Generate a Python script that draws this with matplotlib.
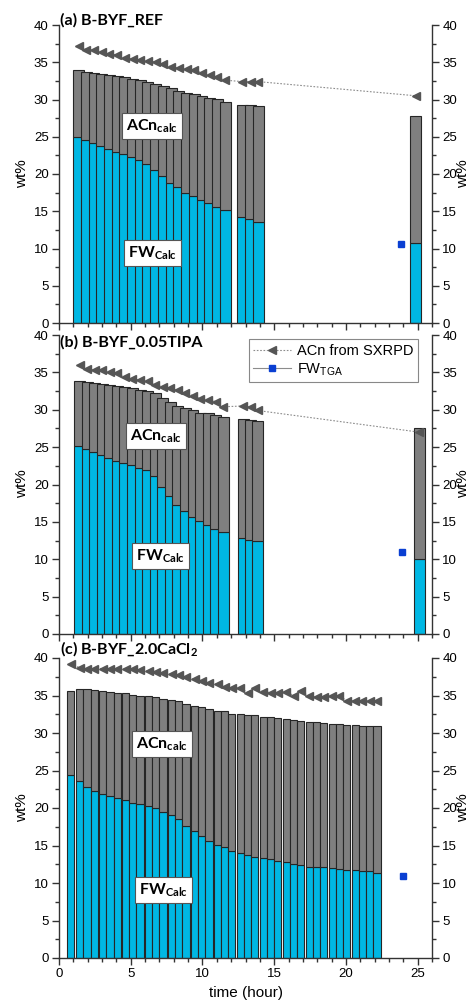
import matplotlib.pyplot as plt
from matplotlib.lines import Line2D
from matplotlib.ticker import MultipleLocator

plt.rcParams['font.family'] = ['Liberation Sans', 'DejaVu Sans']
plt.rcParams['mathtext.fontset'] = 'custom'
plt.rcParams['mathtext.rm'] = 'Liberation Sans'
plt.rcParams['mathtext.bf'] = 'Lato:bold'

# ---- data (wt%) ----
# (a) B-BYF_REF
t_a = [1.36, 1.90, 2.44, 2.97, 3.51, 4.05, 4.59, 5.13, 5.66, 6.20,
       6.74, 7.28, 7.82, 8.35, 8.89, 9.43, 9.97, 10.51, 11.04, 11.58,
       12.76, 13.35, 13.88, 24.87]
total_a = [33.9, 33.7, 33.5, 33.4, 33.3, 33.1, 33.0, 32.8, 32.6, 32.4,
           32.1, 31.8, 31.5, 31.2, 30.9, 30.7, 30.5, 30.2, 30.0, 29.7,
           29.3, 29.2, 29.1, 27.8]
fw_a = [24.9, 24.5, 24.1, 23.8, 23.4, 23.0, 22.7, 22.3, 21.9, 21.3,
        20.6, 19.7, 18.8, 18.2, 17.5, 17.0, 16.5, 16.1, 15.6, 15.2,
        14.2, 13.9, 13.6, 10.7]
sxrpd_a = [37.2, 36.7, 36.6, 36.4, 36.1, 36.0, 35.6, 35.4, 35.3, 35.2,
           35.0, 34.7, 34.4, 34.2, 34.1, 33.9, 33.6, 33.3, 33.0, 32.6,
           32.4, 32.4, 32.4, 30.5]
tga_a = (23.86, 10.55)

# (b) B-BYF_0.05TIPA
t_b = [1.43, 1.96, 2.48, 3.01, 3.54, 4.07, 4.59, 5.12, 5.65, 6.17,
       6.70, 7.23, 7.75, 8.28, 8.81, 9.34, 9.86, 10.39, 10.92, 11.44,
       12.83, 13.35, 13.84, 25.12]
total_b = [33.9, 33.7, 33.6, 33.5, 33.3, 33.2, 33.0, 32.9, 32.7, 32.5,
           32.2, 31.6, 31.1, 30.5, 30.3, 29.9, 29.6, 29.5, 29.3, 29.0,
           28.7, 28.6, 28.5, 27.6]
fw_b = [25.1, 24.7, 24.3, 23.9, 23.6, 23.2, 22.9, 22.6, 22.2, 21.9,
        21.1, 19.6, 18.4, 17.2, 16.5, 15.7, 15.1, 14.6, 14.1, 13.7,
        12.9, 12.6, 12.4, 10.1]
sxrpd_b = [36.0, 35.4, 35.3, 35.3, 35.0, 34.9, 34.4, 34.1, 34.0, 33.8,
           33.3, 33.1, 32.9, 32.6, 32.2, 31.9, 31.5, 31.3, 31.1, 30.4,
           30.5, 30.4, 29.9, 27.0]
tga_b = (23.93, 11.0)

# (c) B-BYF_2.0CaCl2
t_c = [0.83, 1.45, 1.95, 2.45, 3.05, 3.55, 4.05, 4.65, 5.15, 5.65,
       6.25, 6.75, 7.25, 7.85, 8.35, 8.85, 9.45, 9.95, 10.45, 11.05,
       11.55, 12.05, 12.65, 13.15, 13.65, 14.25, 14.75, 15.25, 15.85, 16.35,
       16.85, 17.45, 17.95, 18.45, 19.05, 19.55, 20.05, 20.65, 21.15, 21.65,
       22.17]
total_c = [35.6, 35.9, 35.9, 35.7, 35.6, 35.5, 35.4, 35.3, 35.1, 35.0,
           34.9, 34.8, 34.6, 34.4, 34.3, 33.9, 33.6, 33.5, 33.2, 33.0,
           32.9, 32.6, 32.5, 32.4, 32.4, 32.2, 32.1, 32.0, 31.9, 31.7,
           31.6, 31.5, 31.5, 31.4, 31.2, 31.2, 31.1, 31.1, 31.0, 31.0,
           30.9]
fw_c = [24.4, 23.6, 22.8, 22.3, 21.9, 21.6, 21.3, 21.1, 20.7, 20.5,
        20.3, 20.0, 19.5, 19.1, 18.5, 17.6, 16.9, 16.3, 15.6, 15.1,
        14.8, 14.3, 14.0, 13.8, 13.5, 13.3, 13.2, 13.0, 12.8, 12.6,
        12.4, 12.2, 12.1, 12.1, 12.0, 11.9, 11.8, 11.7, 11.6, 11.6,
        11.4]
sxrpd_c = [39.2, 38.7, 38.6, 38.6, 38.6, 38.6, 38.6, 38.6, 38.6, 38.4,
           38.3, 38.2, 38.0, 37.9, 37.7, 37.5, 37.2, 37.0, 36.7, 36.5,
           36.2, 36.0, 36.0, 35.4, 36.0, 35.5, 35.4, 35.4, 35.5, 35.0,
           35.6, 34.9, 34.8, 34.8, 34.9, 35.0, 34.3, 34.3, 34.3, 34.3,
           34.3]
tga_c = (24.0, 10.9)

titles = ['(a) B-BYF_REF', '(b) B-BYF_0.05TIPA', r'(c) B-BYF_2.0CaCl$_\mathbf{2}$']
acn_pos = [(6.5, 26.4), (6.74, 26.5), (7.2, 28.5)]
fw_pos = [(6.5, 9.4), (7.07, 10.4), (7.26, 9.1)]

blue = '#00b7e3'
grey = '#7f7f7f'
edge = '#262626'
axcol = '#333333'

W, H = 471, 1002
fig = plt.figure(figsize=(W / 100, H / 100), dpi=100)


def add_panel(top, bottom):
    return fig.add_axes([59 / W, 1 - bottom / H, (432 - 59) / W, (bottom - top) / H])


panels = [
    (add_panel(25, 323), t_a, total_a, fw_a, sxrpd_a, tga_a, 0.76),
    (add_panel(335, 634), t_b, total_b, fw_b, sxrpd_b, tga_b, 0.76),
    (add_panel(658, 958), t_c, total_c, fw_c, sxrpd_c, tga_c, 0.50),
]
mid_y = [174, 484, 808]   # vertical centre of each panel, px from top

for i, (ax, t, tot, fw, sx, tga, w) in enumerate(panels):
    ax.bar(t, fw, width=w, color=blue, edgecolor=edge, linewidth=0.8, zorder=2)
    ax.bar(t, [a - b for a, b in zip(tot, fw)], bottom=fw, width=w,
           color=grey, edgecolor=edge, linewidth=0.8, zorder=2)
    ax.plot(t, sx, linestyle=(0, (1.5, 1.5)), color='#8c8c8c', linewidth=0.8,
            marker='<', markersize=6, markerfacecolor='#555555',
            markeredgecolor='#555555', zorder=3)
    ax.plot([tga[0]], [tga[1]], linestyle='none', marker='s', markersize=5,
            color='#0a3fd2', zorder=4)

    ax.set_xlim(0, 26)
    ax.set_ylim(0, 40)
    ax.xaxis.set_major_locator(MultipleLocator(5))
    ax.xaxis.set_minor_locator(MultipleLocator(1))
    ax.yaxis.set_major_locator(MultipleLocator(5))
    ax.yaxis.set_minor_locator(MultipleLocator(2.5))
    ax.spines['top'].set_visible(False)
    for s in ['left', 'right', 'bottom']:
        ax.spines[s].set_color(axcol)
        ax.spines[s].set_linewidth(1.0)
    ax.tick_params(which='both', direction='out', color=axcol, width=1.0,
                   labelsize=9.5, left=True, right=True, labelleft=True,
                   labelright=True, top=False)
    ax.tick_params(which='major', length=5, pad=2.5)
    ax.tick_params(which='minor', length=3)
    if i < 2:
        ax.tick_params(labelbottom=False)

    # axis titles on both sides
    fig.text(22 / W, 1 - mid_y[i] / H, 'wt%', fontsize=11, rotation=90,
             ha='center', va='center')
    fig.text(463 / W, 1 - mid_y[i] / H, 'wt%', fontsize=11, rotation=90,
             ha='center', va='center')

    for (x, y), lab in zip([acn_pos[i], fw_pos[i]],
                           [r'ACn$_{\mathbf{calc}}$', r'FW$_{\mathbf{Calc}}$']):
        ax.text(x, y, lab, family='Lato', fontweight='bold', fontsize=11.5,
                ha='center', va='center', zorder=5,
                bbox=dict(boxstyle='square,pad=0.25', facecolor='white',
                          edgecolor='#555555', linewidth=0.8))

panels[0][0].text(0.003, 1.0, titles[0], transform=panels[0][0].transAxes,
                  family='Lato', fontweight='bold', fontsize=11.5, ha='left', va='baseline')
panels[1][0].text(0.003, 1.0, titles[1], transform=panels[1][0].transAxes,
                  family='Lato', fontweight='bold', fontsize=11.5, ha='left', va='top')
panels[2][0].text(0.003, 1.012, titles[2], transform=panels[2][0].transAxes,
                  family='Lato', fontweight='bold', fontsize=11.5, ha='left', va='baseline')

fig.text(246 / W, 1 - 993 / H, 'time (hour)', fontsize=11, ha='center', va='center')

handles = [
    Line2D([], [], linestyle=(0, (1.5, 1.5)), color='#8c8c8c', linewidth=0.8,
           marker='<', markersize=6, markerfacecolor='#555555', markeredgecolor='#555555'),
    Line2D([], [], linestyle='-', color='#8c8c8c', linewidth=0.8,
           marker='s', markersize=5, markerfacecolor='#0a3fd2', markeredgecolor='#0a3fd2'),
]
leg = panels[1][0].legend(handles, ['ACn from SXRPD', r'FW$_{\mathrm{TGA}}$'],
                          loc='upper left', bbox_to_anchor=(0.49, 1.01), fontsize=10.5,
                          fancybox=False, edgecolor='#888888', framealpha=1,
                          handlelength=2.6, borderpad=0.3, labelspacing=0.25,
                          handletextpad=0.4)
leg.get_frame().set_linewidth(0.8)
leg.set_zorder(10)

fig.savefig('out.png', dpi=100)
